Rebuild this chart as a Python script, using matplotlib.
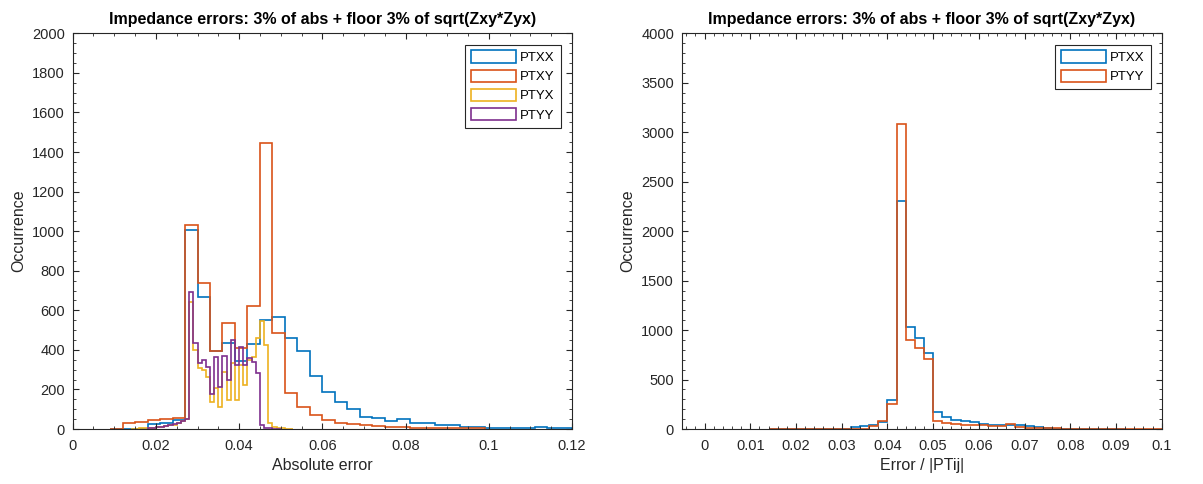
import numpy as np
import matplotlib.pyplot as plt
from matplotlib.patches import Patch
from matplotlib.ticker import MultipleLocator

plt.rcParams['font.family'] = ['Liberation Sans', 'DejaVu Sans']

# MATLAB default line colours
c_blue = '#0072BD'
c_red = '#D95319'
c_yellow = '#EDB120'
c_purple = '#7E2F8E'
axcol = '#262626'

# ---- left panel: absolute errors ----
# PTXX / PTXY binned at 0.003 starting from 0.009
wide_start = 0.009
wide_width = 0.003
ptxx_abs = [0, 0, 0, 25, 32, 48, 1006, 669, 395, 433, 345, 428, 551, 568, 462,
            396, 270, 189, 138, 99, 62, 54, 42, 49, 32, 30, 20, 20, 12, 12,
            5, 5, 4, 4, 12, 5, 5]
ptxy_abs = [2, 28, 37, 45, 52, 58, 1029, 740, 395, 537, 408, 622, 1444, 487, 182,
            109, 71, 45, 32, 25, 21, 15, 12, 8, 7, 6, 5, 5, 3, 3]

# PTYX / PTYY binned at 0.001
ptyx_start = 0.014
ptyx_abs = [2, 2, 3, 3, 5, 6, 8, 10, 13, 18, 22, 30, 38, 50, 640, 400, 307, 298,
            265, 138, 209, 113, 290, 146, 335, 146, 323, 222, 349, 366, 458, 548,
            425, 29, 12, 7, 3, 2, 1]
ptyy_start = 0.018
ptyy_abs = [3, 5, 8, 10, 14, 18, 24, 30, 38, 52, 695, 436, 335, 349, 315, 175, 362,
            210, 369, 248, 450, 323, 413, 323, 357, 340, 285, 20, 6, 3, 2, 1]
narrow_width = 0.001

# ---- right panel: relative errors, bins of 0.002 from 0.014 ----
rel_start = 0.014
rel_width = 0.002
ptxx_rel = [3, 3, 3, 3, 3, 3, 3, 3, 3, 17, 30, 37, 75, 293, 2305, 1028, 923, 765,
            169, 118, 91, 84, 67, 50, 40, 40, 40, 40, 30, 24, 15, 5, 5, 0, 5, 0,
            5, 0, 5]
ptyy_rel = [0, 0, 0, 0, 0, 0, 0, 0, 0, 3, 3, 30, 84, 249, 3083, 900, 819, 704, 84,
            64, 50, 44, 40, 37, 30, 27, 47, 17, 13, 13, 10, 8, 5, 3, 3, 2, 2, 2,
            2, 2, 2, 2, 2]

title = 'Impedance errors: 3% of abs + floor 3% of sqrt(Zxy*Zyx)'


def edges(start, width, counts):
    return start + width * np.arange(len(counts) + 1)


def style_axes(ax):
    ax.tick_params(which='both', direction='in', top=True, right=True,
                   colors=axcol, labelsize=10.5)
    ax.tick_params(which='major', length=4, width=0.8)
    ax.tick_params(which='minor', length=2, width=0.6)
    ax.tick_params(axis='x', which='major', pad=7.5)
    ax.tick_params(axis='y', which='major', pad=5.5)
    for s in ax.spines.values():
        s.set_color(axcol)
        s.set_linewidth(0.8)


def add_legend(ax, colors, names):
    handles = [Patch(fc='none', ec=c, lw=1.2) for c in colors]
    leg = ax.legend(handles, names, loc='upper right', fontsize=9.5,
                    handlelength=3.4, handleheight=1.1, handletextpad=0.3,
                    labelspacing=0.4, borderpad=0.45, borderaxespad=0.85,
                    fancybox=False, edgecolor=axcol, framealpha=1)
    leg.get_frame().set_linewidth(0.8)


fig = plt.figure(figsize=(12.03, 4.84), dpi=100)
ax1 = fig.add_axes([0.0604, 0.1136, 0.4151, 0.8176])
ax2 = fig.add_axes([0.5667, 0.1136, 0.3990, 0.8176])

lw = 1.2
ax1.stairs(ptxx_abs, edges(wide_start, wide_width, ptxx_abs), color=c_blue, lw=lw)
ax1.stairs(ptxy_abs, edges(wide_start, wide_width, ptxy_abs), color=c_red, lw=lw)
ax1.stairs(ptyx_abs, edges(ptyx_start, narrow_width, ptyx_abs), color=c_yellow, lw=lw)
ax1.stairs(ptyy_abs, edges(ptyy_start, narrow_width, ptyy_abs), color=c_purple, lw=lw)

ax1.set_xlim(0, 0.12)
ax1.set_ylim(0, 2000)
ax1.set_xticks([0, 0.02, 0.04, 0.06, 0.08, 0.1, 0.12])
ax1.set_xticklabels(['0', '0.02', '0.04', '0.06', '0.08', '0.1', '0.12'])
ax1.set_yticks(np.arange(0, 2001, 200))
ax1.xaxis.set_minor_locator(MultipleLocator(0.005))
ax1.yaxis.set_minor_locator(MultipleLocator(50))
ax1.set_xlabel('Absolute error', fontsize=11.5, color=axcol, labelpad=3)
ax1.set_ylabel('Occurrence', fontsize=11.5, color=axcol)
ax1.set_title(title, fontsize=11.5, fontweight='bold', pad=7)
style_axes(ax1)
add_legend(ax1, (c_blue, c_red, c_yellow, c_purple), ['PTXX', 'PTXY', 'PTYX', 'PTYY'])

ax2.stairs(ptxx_rel, edges(rel_start, rel_width, ptxx_rel), color=c_blue, lw=lw)
ax2.stairs(ptyy_rel, edges(rel_start, rel_width, ptyy_rel), color=c_red, lw=lw)

ax2.set_xlim(-0.005, 0.1)
ax2.set_ylim(0, 4000)
ax2.set_xticks(np.arange(0, 0.101, 0.01))
ax2.set_xticklabels(['0', '0.01', '0.02', '0.03', '0.04', '0.05', '0.06',
                     '0.07', '0.08', '0.09', '0.1'])
ax2.set_yticks(np.arange(0, 4001, 500))
ax2.xaxis.set_minor_locator(MultipleLocator(0.002))
ax2.yaxis.set_minor_locator(MultipleLocator(100))
ax2.set_xlabel('Error / |PTij|', fontsize=11.5, color=axcol, labelpad=3)
ax2.set_ylabel('Occurrence', fontsize=11.5, color=axcol)
ax2.set_title(title, fontsize=11.5, fontweight='bold', pad=7)
style_axes(ax2)
add_legend(ax2, (c_blue, c_red), ['PTXX', 'PTYY'])

fig.savefig('out.png', dpi=100)
